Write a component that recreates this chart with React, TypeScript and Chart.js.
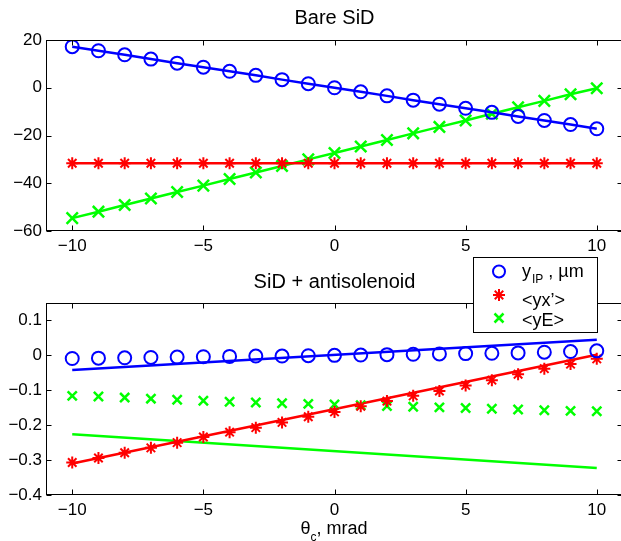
import React, { useEffect, useRef } from "react";
import { Chart, registerables } from "chart.js";

Chart.register(...registerables);

// ---- data ----
const thetaC = [-10, -9, -8, -7, -6, -5, -4, -3, -2, -1, 0, 1, 2, 3, 4, 5, 6, 7, 8, 9, 10];

// Bare SiD
const bareYIP = [17.2, 15.5, 13.8, 12.0, 10.3, 8.6, 6.9, 5.2, 3.4, 1.7, 0.0, -1.7, -3.4, -5.2, -6.9, -8.6, -10.3, -12.0, -13.7, -15.4, -17.2];
const bareYXp = [-31.6, -31.6, -31.6, -31.6, -31.6, -31.6, -31.6, -31.6, -31.6, -31.6, -31.6, -31.6, -31.6, -31.6, -31.6, -31.6, -31.6, -31.6, -31.6, -31.6, -31.6];
const bareYE = [-54.6, -51.9, -49.1, -46.4, -43.7, -41.0, -38.2, -35.5, -32.8, -30.0, -27.3, -24.6, -21.9, -19.1, -16.4, -13.7, -10.9, -8.2, -5.5, -2.7, -0.2];

// SiD + antisolenoid
const antiYIP = [-0.009, -0.008, -0.007, -0.006, -0.005, -0.004, -0.003, -0.002, -0.002, -0.001, 0.0, 0.001, 0.002, 0.003, 0.004, 0.005, 0.006, 0.007, 0.009, 0.011, 0.013];
const antiYXp = [-0.307, -0.294, -0.279, -0.265, -0.25, -0.234, -0.22, -0.207, -0.192, -0.176, -0.162, -0.146, -0.131, -0.116, -0.102, -0.086, -0.071, -0.054, -0.038, -0.025, -0.01];
const antiYE = [-0.116, -0.118, -0.121, -0.124, -0.127, -0.13, -0.133, -0.135, -0.137, -0.139, -0.141, -0.143, -0.145, -0.147, -0.149, -0.151, -0.153, -0.155, -0.157, -0.159, -0.16];

// fitted lines (endpoints)
const fitX = [-10, 10];
const antiYIPFit = [-0.042, 0.045];
const antiYXpFit = [-0.31, 0.002];
const antiYEFit = [-0.226, -0.323];

// ticks
const xTicks = [-10, -5, 0, 5, 10];
const bareYTicks = [-60, -40, -20, 0, 20];
const antiYTicks = [-0.4, -0.3, -0.2, -0.1, 0, 0.1];

const titleTop = "Bare SiD";
const titleBottom = "SiD + antisolenoid";

const FONT = "'Liberation Sans', Arial, Helvetica, sans-serif";
const BLUE = "#0000ff";
const RED = "#ff0000";
const GREEN = "#00ff00";

const pts = (xs: number[], ys: number[]) => xs.map((x, i) => ({ x, y: ys[i] }));

const fmt = (v: number) => {
  const r = Math.round(v * 10) / 10;
  if (r === 0) return "0";
  return String(r).replace("-", "\u2212");
};

const framePlugin = {
  id: "matlabFrame",
  afterDatasetsDraw(chart: any) {
    const { ctx, chartArea: a, scales } = chart;
    ctx.save();
    ctx.strokeStyle = "#000";
    ctx.lineWidth = 1;
    const l = Math.round(a.left) + 0.5;
    const t = Math.round(a.top) + 0.5;
    const r = Math.round(a.right) - 0.5;
    const b = Math.round(a.bottom) - 0.5;
    ctx.strokeRect(l, t, r - l, b - t);
    const L = 5;
    ctx.beginPath();
    for (const tk of scales.x.ticks) {
      const px = Math.round(scales.x.getPixelForValue(tk.value)) + 0.5;
      ctx.moveTo(px, b);
      ctx.lineTo(px, b - L);
      ctx.moveTo(px, t);
      ctx.lineTo(px, t + L);
    }
    for (const tk of scales.y.ticks) {
      const py = Math.round(scales.y.getPixelForValue(tk.value)) + 0.5;
      ctx.moveTo(l, py);
      ctx.lineTo(l + L, py);
      ctx.moveTo(r, py);
      ctx.lineTo(r - L, py);
    }
    ctx.stroke();
    ctx.restore();
  },
};

const drawCircle = (ctx: CanvasRenderingContext2D, x: number, y: number, r: number) => {
  ctx.beginPath();
  ctx.arc(x, y, r, 0, Math.PI * 2);
  ctx.stroke();
};
const drawStar = (ctx: CanvasRenderingContext2D, x: number, y: number, r: number) => {
  ctx.beginPath();
  for (let k = 0; k < 4; k++) {
    const ang = (k * Math.PI) / 4;
    ctx.moveTo(x - Math.cos(ang) * r, y - Math.sin(ang) * r);
    ctx.lineTo(x + Math.cos(ang) * r, y + Math.sin(ang) * r);
  }
  ctx.stroke();
};
const drawX = (ctx: CanvasRenderingContext2D, x: number, y: number, h: number) => {
  ctx.beginPath();
  ctx.moveTo(x - h, y - h);
  ctx.lineTo(x + h, y + h);
  ctx.moveTo(x - h, y + h);
  ctx.lineTo(x + h, y - h);
  ctx.stroke();
};

const legendPlugin = {
  id: "matlabLegend",
  afterDraw(chart: any) {
    const ctx: CanvasRenderingContext2D = chart.ctx;
    ctx.save();
    // box
    ctx.fillStyle = "#fff";
    ctx.fillRect(473.5, 7.5, 124, 75);
    ctx.strokeStyle = "#000";
    ctx.lineWidth = 1;
    ctx.strokeRect(473.5, 7.5, 124, 75);
    // markers
    ctx.lineWidth = 2;
    ctx.strokeStyle = BLUE;
    drawCircle(ctx, 499, 21.5, 6);
    ctx.strokeStyle = RED;
    drawStar(ctx, 499, 45, 6);
    ctx.lineWidth = 2.5;
    ctx.strokeStyle = GREEN;
    drawX(ctx, 499, 68, 4.5);
    // texts
    ctx.fillStyle = "#000";
    ctx.textBaseline = "alphabetic";
    ctx.textAlign = "left";
    ctx.font = `18px ${FONT}`;
    let x = 522;
    ctx.fillText("y", x, 26.5);
    x += ctx.measureText("y").width;
    ctx.font = `12px ${FONT}`;
    ctx.fillText("IP", x + 1, 33);
    x += ctx.measureText("IP").width + 1;
    ctx.font = `18px ${FONT}`;
    ctx.fillText(" , \u00b5m", x, 26.5);
    ctx.fillText("<yx\u2019>", 522, 56);
    ctx.fillText("<yE>", 522, 76);

    // x axis label
    const cx = 334;
    ctx.font = `18px ${FONT}`;
    const w1 = ctx.measureText("\u03b8").width;
    const w3 = ctx.measureText(", mrad").width;
    ctx.font = `12px ${FONT}`;
    const w2 = ctx.measureText("c").width;
    let sx = cx - (w1 + w2 + w3) / 2;
    ctx.font = `18px ${FONT}`;
    ctx.fillText("\u03b8", sx, 284);
    sx += w1;
    ctx.font = `12px ${FONT}`;
    ctx.fillText("c", sx, 291);
    sx += w2;
    ctx.font = `18px ${FONT}`;
    ctx.fillText(", mrad", sx, 284);
    ctx.restore();
  },
};

function makeOptions(
  title: string,
  titlePad: { top: number; bottom: number },
  yMin: number,
  yMax: number,
  yTicks: number[],
  xAxisHeight: number
): any {
  return {
    responsive: false,
    animation: false,
    events: [],
    layout: { autoPadding: false, padding: { left: 0, right: 2, top: 0, bottom: 0 } },
    plugins: {
      legend: { display: false },
      tooltip: { enabled: false },
      title: {
        display: true,
        text: title,
        fullSize: false,
        color: "#000",
        font: { family: FONT, size: 20, weight: "normal", lineHeight: 1.2 },
        padding: titlePad,
      },
    },
    scales: {
      x: {
        type: "linear",
        min: -11,
        max: 11,
        grid: { display: false, drawTicks: false },
        border: { display: false },
        afterBuildTicks: (s: any) => {
          s.ticks = xTicks.map((v) => ({ value: v }));
        },
        afterFit: (s: any) => {
          s.height = xAxisHeight;
        },
        ticks: {
          color: "#000",
          font: { family: FONT, size: 17 },
          padding: 5,
          maxRotation: 0,
          autoSkip: false,
          callback: (v: any) => fmt(Number(v)),
        },
      },
      y: {
        type: "linear",
        min: yMin,
        max: yMax,
        grid: { display: false, drawTicks: false },
        border: { display: false },
        afterBuildTicks: (s: any) => {
          s.ticks = yTicks.map((v) => ({ value: v }));
        },
        afterFit: (s: any) => {
          s.width = 46;
        },
        ticks: {
          color: "#000",
          font: { family: FONT, size: 17 },
          padding: 4,
          autoSkip: false,
          callback: (v: any) => fmt(Number(v)),
        },
      },
    },
  };
}

export default function App() {
  const topRef = useRef<HTMLCanvasElement>(null);
  const botRef = useRef<HTMLCanvasElement>(null);

  useEffect(() => {
    const top = new Chart(topRef.current!, {
      type: "scatter",
      data: {
        datasets: [
          {
            data: pts(thetaC, bareYIP),
            showLine: true,
            borderColor: BLUE,
            backgroundColor: "rgba(0,0,0,0)",
            borderWidth: 2.5,
            pointStyle: "circle",
            pointRadius: 6.5,
            pointBorderWidth: 2,
            pointBorderColor: BLUE,
            pointBackgroundColor: "rgba(0,0,0,0)",
          },
          {
            data: pts(thetaC, bareYXp),
            showLine: true,
            borderColor: RED,
            backgroundColor: "rgba(0,0,0,0)",
            borderWidth: 2.5,
            pointStyle: "star",
            pointRadius: 6,
            pointBorderWidth: 2,
            pointBorderColor: RED,
          },
          {
            data: pts(thetaC, bareYE),
            showLine: true,
            borderColor: GREEN,
            backgroundColor: "rgba(0,0,0,0)",
            borderWidth: 2.5,
            pointStyle: "crossRot",
            pointRadius: 8,
            pointBorderWidth: 2.5,
            pointBorderColor: GREEN,
          },
        ],
      } as any,
      options: makeOptions(titleTop, { top: 6, bottom: 10 }, -60, 20, bareYTicks, 29),
      plugins: [framePlugin],
    });

    const bot = new Chart(botRef.current!, {
      type: "scatter",
      data: {
        datasets: [
          {
            data: pts(thetaC, antiYIP),
            borderColor: BLUE,
            pointStyle: "circle",
            pointRadius: 6.5,
            pointBorderWidth: 2,
            pointBorderColor: BLUE,
            pointBackgroundColor: "rgba(0,0,0,0)",
          },
          {
            data: pts(thetaC, antiYXp),
            borderColor: RED,
            pointStyle: "star",
            pointRadius: 6,
            pointBorderWidth: 2,
            pointBorderColor: RED,
          },
          {
            data: pts(thetaC, antiYE),
            borderColor: GREEN,
            pointStyle: "crossRot",
            pointRadius: 6.5,
            pointBorderWidth: 2.5,
            pointBorderColor: GREEN,
          },
          {
            data: pts(fitX, antiYIPFit),
            showLine: true,
            borderColor: BLUE,
            borderWidth: 2.5,
            pointRadius: 0,
          },
          {
            data: pts(fitX, antiYXpFit),
            showLine: true,
            borderColor: RED,
            borderWidth: 2.5,
            pointRadius: 0,
          },
          {
            data: pts(fitX, antiYEFit),
            showLine: true,
            borderColor: GREEN,
            borderWidth: 2.5,
            pointRadius: 0,
          },
        ],
      } as any,
      options: makeOptions(titleBottom, { top: 20, bottom: 9 }, -0.4, 0.15, antiYTicks, 46),
      plugins: [framePlugin, legendPlugin],
    });

    return () => {
      top.destroy();
      bot.destroy();
    };
  }, []);

  return (
    <div
      style={{
        position: "fixed",
        left: 0,
        top: 0,
        width: 621,
        height: 541,
        overflow: "hidden",
        background: "#fff",
      }}
    >
      <canvas
        ref={topRef}
        width={625}
        height={260}
        style={{ position: "absolute", left: 0, top: 0, width: 625, height: 260 }}
      />
      <canvas
        ref={botRef}
        width={625}
        height={291}
        style={{ position: "absolute", left: 0, top: 250, width: 625, height: 291 }}
      />
    </div>
  );
}
